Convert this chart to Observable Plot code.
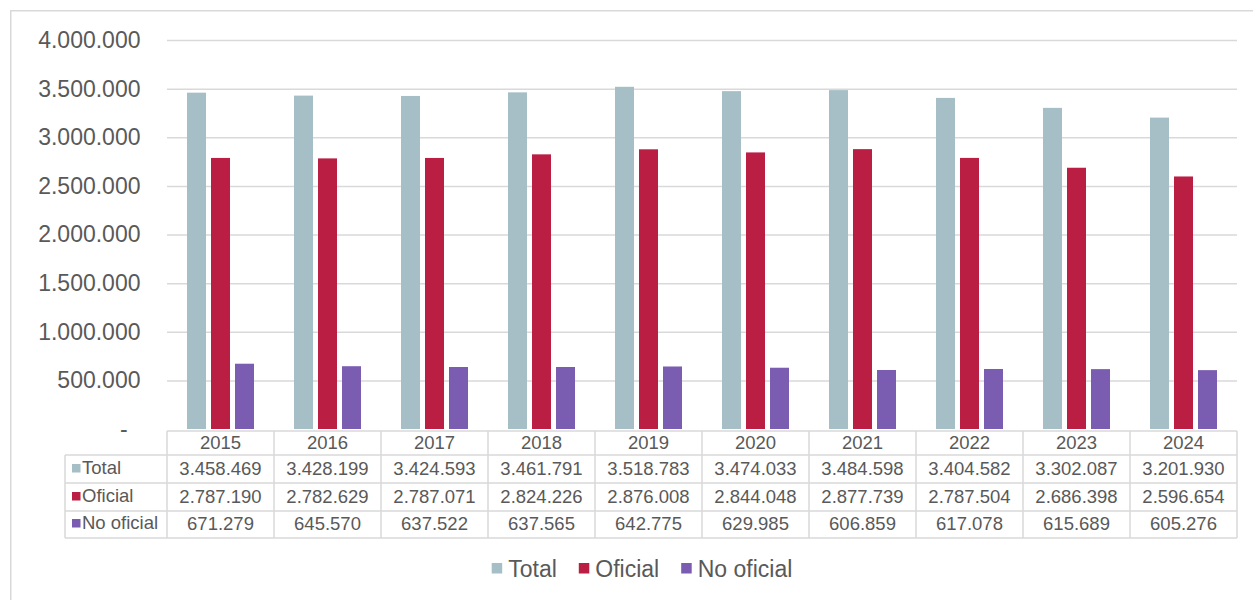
<!DOCTYPE html>
<html>
<head>
<meta charset="utf-8">
<script src="https://cdn.jsdelivr.net/npm/d3@7"></script>
<script src="https://cdn.jsdelivr.net/npm/@observablehq/plot@0.6"></script>
<style>
  body { margin: 0; background: #fff; }
  #chart { position: relative; width: 1253px; height: 600px; overflow: hidden; }
</style>
</head>
<body>
<div id="chart"></div>
<script>
// Alumnado por año: total, enseñanza oficial y no oficial
const years = [2015, 2016, 2017, 2018, 2019, 2020, 2021, 2022, 2023, 2024];
const series = ["Total", "Oficial", "No oficial"];
const seriesColors = ["#A6BFC6", "#BA1E43", "#7A5CB0"];
const total = [3458469, 3428199, 3424593, 3461791, 3518783, 3474033, 3484598, 3404582, 3302087, 3201930];
const oficial = [2787190, 2782629, 2787071, 2824226, 2876008, 2844048, 2877739, 2787504, 2686398, 2596654];
const noOficial = [671279, 645570, 637522, 637565, 642775, 629985, 606859, 617078, 615689, 605276];
const yTicks = [0, 500000, 1000000, 1500000, 2000000, 2500000, 3000000, 3500000, 4000000];

const valuesBySeries = {"Total": total, "Oficial": oficial, "No oficial": noOficial};
const rows = years.flatMap((year, i) =>
  series.map(s => ({year, series: s, value: valuesBySeries[s][i]}))
);

const es = d3.formatLocale({decimal: ",", thousands: ".", grouping: [3], currency: ["", " €"]});
const num = es.format(",");
const axisFormat = d => d === 0 ? "-\u00A0\u00A0" : num(d);

const font = "'Liberation Sans', Arial, Helvetica, sans-serif";
const textColor = "#595959";
const lineColor = "#D9D9D9";

const chart = Plot.plot({
  width: 1253,
  height: 600,
  marginTop: 40,
  marginBottom: 171,
  marginLeft: 166,
  marginRight: 15,
  style: {fontFamily: font, fontSize: "23px", color: textColor, background: "transparent", overflow: "visible"},
  fx: {domain: years, paddingInner: 0, paddingOuter: 0, axis: null, label: null},
  x: {domain: series, paddingInner: 0.19, paddingOuter: 0.8, axis: null},
  y: {domain: [0, 4000000], ticks: yTicks, tickFormat: axisFormat, tickSize: 0, tickPadding: 27, label: null},
  color: {domain: series, range: seriesColors},
  marks: [
    Plot.ruleY(yTicks.slice(1), {stroke: lineColor, strokeWidth: 1.5, strokeOpacity: 1}),
    Plot.barY(rows, {fx: "year", x: "series", y: "value", fill: "series"})
  ]
});

document.getElementById("chart").appendChild(chart);

// Data table under the plot, aligned to the fx (year) scale
const svg = d3.select(chart);
const fx = chart.scale("fx");
const yScale = chart.scale("y");
const colorScale = chart.scale("color");
const bw = fx.bandwidth;
const left0 = fx.apply(years[0]);
const right0 = fx.apply(years[years.length - 1]) + bw;
const labelLeft = 65;
const tableTop = yScale.apply(0) + 2;
const rowEdges = [tableTop, tableTop + 24, tableTop + 52, tableTop + 80, tableTop + 107];

const table = svg.append("g").attr("font-family", font).attr("fill", textColor).attr("text-anchor", "start");
const lines = table.append("g").attr("stroke", lineColor).attr("stroke-width", 1.5);

lines.append("line").attr("x1", left0).attr("x2", right0).attr("y1", rowEdges[0]).attr("y2", rowEdges[0]);
rowEdges.slice(1).forEach(y =>
  lines.append("line").attr("x1", labelLeft).attr("x2", right0).attr("y1", y).attr("y2", y)
);
lines.append("line").attr("x1", labelLeft).attr("x2", labelLeft).attr("y1", rowEdges[1]).attr("y2", rowEdges[4]);
years.forEach(year => {
  const x = fx.apply(year);
  lines.append("line").attr("x1", x).attr("x2", x).attr("y1", rowEdges[0]).attr("y2", rowEdges[4]);
});
lines.append("line").attr("x1", right0).attr("x2", right0).attr("y1", rowEdges[0]).attr("y2", rowEdges[4]);

const cellSize = "18.5px";
years.forEach(year => {
  table.append("text")
    .attr("x", fx.apply(year) + bw / 2).attr("y", rowEdges[1] - 6)
    .attr("text-anchor", "middle").attr("font-size", cellSize)
    .text(year);
});
series.forEach((s, r) => {
  const base = rowEdges[r + 2] - 8;
  table.append("rect")
    .attr("x", labelLeft + 7).attr("y", base - 11).attr("width", 8.5).attr("height", 8.5)
    .attr("fill", colorScale.apply(s));
  table.append("text")
    .attr("x", labelLeft + 17).attr("y", base - 1)
    .attr("text-anchor", "start").attr("font-size", cellSize).text(s);
  years.forEach((year, i) => {
    table.append("text")
      .attr("x", fx.apply(year) + bw / 2).attr("y", base)
      .attr("text-anchor", "middle").attr("font-size", cellSize)
      .text(num(valuesBySeries[s][i]));
  });
});

// Legend
const legend = svg.append("g").attr("font-family", font).attr("font-size", "23px")
  .attr("fill", textColor).attr("text-anchor", "start");
let lx = 0;
series.forEach(s => {
  const g = legend.append("g");
  g.append("rect").attr("x", 0).attr("y", -14).attr("width", 10.5).attr("height", 10.5).attr("fill", colorScale.apply(s));
  const t = g.append("text").attr("x", 16.5).attr("y", 0).attr("text-anchor", "start").text(s);
  const w = 16.5 + t.node().getComputedTextLength();
  g.attr("transform", `translate(${lx},0)`);
  lx += w + 22;
});
const legendWidth = lx - 22;
legend.attr("transform", `translate(${642 - legendWidth / 2},577)`);

// Chart area border
svg.append("rect")
  .attr("x", 10.75).attr("y", 10.75).attr("width", 1260).attr("height", 620)
  .attr("fill", "none").attr("stroke", lineColor).attr("stroke-width", 1.5);
</script>
</body>
</html>
